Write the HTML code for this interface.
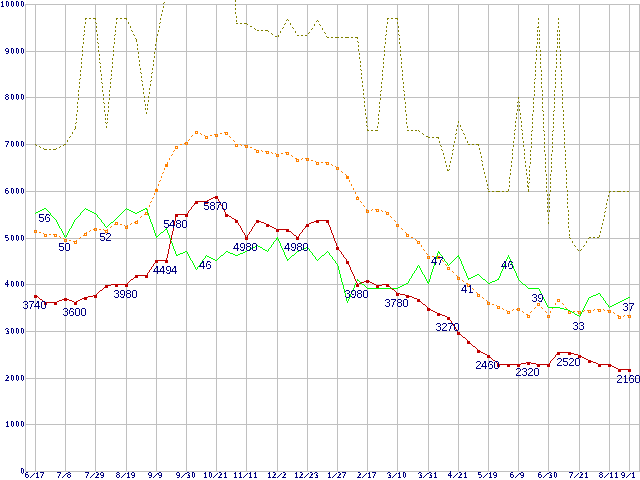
<!DOCTYPE html><html><head><meta charset="utf-8"><style>html,body{margin:0;padding:0;background:#fff;overflow:hidden;}svg{display:block;}.t{font-family:"Liberation Sans",sans-serif;font-weight:bold;font-size:9.7px;fill:#000080;}.d{font-family:"Liberation Sans",sans-serif;font-size:11.3px;fill:#000080;}</style></head><body>
<svg width="640" height="480" viewBox="0 0 640 480">
<defs><filter id="crisp" x="0" y="0" width="640" height="480" filterUnits="userSpaceOnUse"><feComponentTransfer><feFuncA type="discrete" tableValues="0 1"/></feComponentTransfer></filter><filter id="crisp2" x="0" y="0" width="640" height="480" filterUnits="userSpaceOnUse"><feComponentTransfer><feFuncA type="discrete" tableValues="0 1"/></feComponentTransfer></filter></defs>
<rect width="640" height="480" fill="#fff"/>
<path d="M25 471.5H640M25 424.5H640M25 378.5H640M25 331.5H640M25 284.5H640M25 238.5H640M25 191.5H640M25 144.5H640M25 97.5H640M25 51.5H640M25 4.5H640M35.5 4V472M65.5 4V472M95.5 4V472M126.5 4V472M156.5 4V472M186.5 4V472M216.5 4V472M246.5 4V472M277.5 4V472M307.5 4V472M337.5 4V472M367.5 4V472M397.5 4V472M428.5 4V472M458.5 4V472M488.5 4V472M518.5 4V472M548.5 4V472M579.5 4V472M609.5 4V472M629.5 4V472M25.5 4V472M639.5 4V472" stroke="#c0c0c0" stroke-width="1" fill="none" shape-rendering="crispEdges"/>
<g class="t" filter="url(#crisp)">
<text style="font-size:9.5px" transform="scale(0.76 1)" x="26.974" y="473.75">0</text>
<text style="font-size:9.5px" transform="scale(0.76 1)" x="7.237 13.816 20.395 26.974" y="426.75 426.75 426.75 426.75">1000</text>
<text style="font-size:9.5px" transform="scale(0.76 1)" x="6.579 13.816 20.395 26.974" y="381.25 380.75 380.75 380.75" rotate="2 0 0 0">2000</text>
<text style="font-size:9.5px" transform="scale(0.76 1)" x="7.237 13.816 20.395 26.974" y="334.75 333.75 333.75 333.75" rotate="-6 0 0 0">3000</text>
<text style="font-size:9.5px" transform="scale(0.76 1)" x="6.250 13.816 20.395 26.974" y="286.25 286.75 286.75 286.75" rotate="6 0 0 0">4000</text>
<text style="font-size:9.5px" transform="scale(0.76 1)" x="6.908 13.816 20.395 26.974" y="241.5 240.75 240.75 240.75" rotate="-6 0 0 0">5000</text>
<text style="font-size:9.5px" transform="scale(0.76 1)" x="6.908 13.816 20.395 26.974" y="194.5 193.75 193.75 193.75" rotate="-6 0 0 0">6000</text>
<text style="font-size:9.5px" transform="scale(0.76 1)" x="6.579 13.816 20.395 26.974" y="147.5 146.75 146.75 146.75" rotate="2 0 0 0">7000</text>
<text style="font-size:9.5px" transform="scale(0.76 1)" x="6.579 13.816 20.395 26.974" y="99.75 99.75 99.75 99.75">8000</text>
<text style="font-size:9.5px" transform="scale(0.76 1)" x="6.908 13.816 20.395 26.974" y="54.5 53.75 53.75 53.75" rotate="-4 0 0 0">9000</text>
<text style="font-size:9.5px" transform="scale(0.76 1)" x="0.658 7.237 13.816 20.395 26.974" y="6.75 6.75 6.75 6.75 6.75">10000</text>
<text style="font-size:9.5px" transform="scale(0.76 1)" x="33.224 39.803 46.711 52.632" y="478.5 477.5 477.75 478.5" rotate="-6 35 0 2">6/17</text>
<text style="font-size:9.5px" transform="scale(0.76 1)" x="75.000 81.908 88.158" y="478.5 477.5 477.75" rotate="2 35 0">7/8</text>
<text style="font-size:9.5px" transform="scale(0.76 1)" x="111.842 118.750 125.000 131.908" y="478.5 477.5 478.25 478.5" rotate="2 35 2 -4">7/29</text>
<text style="font-size:9.5px" transform="scale(0.76 1)" x="152.632 159.539 166.447 172.697" y="477.75 477.5 477.75 478.5" rotate="0 35 0 -4">8/19</text>
<text style="font-size:9.5px" transform="scale(0.76 1)" x="195.066 201.645 208.224" y="478.5 477.5 478.5" rotate="-4 35 -4">9/9</text>
<text style="font-size:9.5px" transform="scale(0.76 1)" x="231.908 238.487 245.395 251.974" y="478.5 477.5 478.75 477.75" rotate="-4 35 -6 0">9/30</text>
<text style="font-size:9.5px" transform="scale(0.76 1)" x="267.763 274.342 280.592 286.842 294.079" y="477.75 477.75 477.5 478.25 477.75" rotate="0 0 35 2 0">10/21</text>
<text style="font-size:9.5px" transform="scale(0.76 1)" x="307.237 313.816 320.066 326.974 333.553" y="477.75 477.75 477.5 477.75 477.75" rotate="0 0 35 0 0">11/11</text>
<text style="font-size:9.5px" transform="scale(0.76 1)" x="351.974 357.895 364.803 371.053" y="477.75 478.25 477.5 478.25" rotate="0 2 35 2">12/2</text>
<text style="font-size:9.5px" transform="scale(0.76 1)" x="387.500 393.421 400.329 406.579 413.816" y="477.75 478.25 477.5 478.25 478.75" rotate="0 2 35 2 -6">12/23</text>
<text style="font-size:9.5px" transform="scale(0.76 1)" x="430.921 437.171 443.421 450.000" y="477.75 477.5 478.25 478.5" rotate="0 35 2 2">1/27</text>
<text style="font-size:9.5px" transform="scale(0.76 1)" x="469.737 476.645 483.553 489.474" y="478.25 477.5 477.75 478.5" rotate="2 35 0 2">2/17</text>
<text style="font-size:9.5px" transform="scale(0.76 1)" x="509.868 516.118 523.026 529.605" y="478.75 477.5 477.75 477.75" rotate="-6 35 0 0">3/10</text>
<text style="font-size:9.5px" transform="scale(0.76 1)" x="550.658 556.908 563.816 570.395" y="478.75 477.5 478.75 477.75" rotate="-6 35 -6 0">3/31</text>
<text style="font-size:9.5px" transform="scale(0.76 1)" x="589.145 596.382 602.632 609.868" y="477.25 477.5 478.25 477.75" rotate="6 35 2 0">4/21</text>
<text style="font-size:9.5px" transform="scale(0.76 1)" x="629.276 635.855 642.763 649.013" y="478.5 477.5 477.75 478.5" rotate="-6 35 0 -4">5/19</text>
<text style="font-size:9.5px" transform="scale(0.76 1)" x="671.382 677.961 684.539" y="478.5 477.5 478.5" rotate="-6 35 -4">6/9</text>
<text style="font-size:9.5px" transform="scale(0.76 1)" x="708.224 714.803 721.711 728.289" y="478.5 477.5 478.75 477.75" rotate="-6 35 -6 0">6/30</text>
<text style="font-size:9.5px" transform="scale(0.76 1)" x="748.684 755.592 761.842 769.079" y="478.5 477.5 478.25 477.75" rotate="2 35 2 0">7/21</text>
<text style="font-size:9.5px" transform="scale(0.76 1)" x="788.158 795.066 801.974 808.553" y="477.75 477.5 477.75 477.75" rotate="0 35 0 0">8/11</text>
<text style="font-size:9.5px" transform="scale(0.76 1)" x="817.434 824.013 830.921" y="478.5 477.5 477.75" rotate="-4 35 0">9/1</text>
</g>
<path d="M235 0h1v1h-1zM235 1h1v1h-1zM164 2h1v1h-1zM163 3h1v1h-1zM235 4h1v1h-1zM235 5h1v1h-1zM163 6h1v1h-1zM163 7h1v1h-1zM235 8h1v1h-1zM235 9h1v1h-1zM162 10h1v1h-1zM162 11h1v1h-1zM235 12h1v1h-1zM235 13h1v1h-1zM161 14h1v1h-1zM161 15h1v1h-1zM236 16h1v1h-1zM236 17h1v1h-1zM85 18h2v1h-2zM89 18h2v1h-2zM93 18h3v1h-3zM116 18h2v1h-2zM120 18h2v1h-2zM124 18h3v1h-3zM160 18h1v1h-1zM387 18h2v1h-2zM391 18h2v1h-2zM395 18h3v1h-3zM538 18h1v1h-1zM558 18h1v1h-1zM85 19h1v1h-1zM95 19h1v1h-1zM116 19h1v1h-1zM126 19h1v1h-1zM160 19h1v1h-1zM287 19h1v1h-1zM387 19h1v1h-1zM397 19h1v1h-1zM538 19h1v1h-1zM558 19h1v1h-1zM236 20h1v1h-1zM286 20h1v1h-1zM288 20h1v1h-1zM317 20h1v1h-1zM236 21h1v1h-1zM316 21h1v1h-1zM318 21h1v1h-1zM85 22h1v1h-1zM95 22h1v1h-1zM116 22h1v1h-1zM128 22h1v1h-1zM160 22h1v1h-1zM387 22h1v1h-1zM397 22h1v1h-1zM538 22h1v1h-1zM558 22h1v1h-1zM85 23h1v1h-1zM96 23h1v1h-1zM116 23h1v1h-1zM128 23h1v1h-1zM159 23h1v1h-1zM236 23h2v1h-2zM240 23h2v1h-2zM244 23h3v1h-3zM285 23h1v1h-1zM290 23h1v1h-1zM387 23h1v1h-1zM397 23h1v1h-1zM538 23h1v1h-1zM558 23h1v1h-1zM247 24h1v1h-1zM284 24h1v1h-1zM290 24h1v1h-1zM314 24h1v1h-1zM319 24h1v1h-1zM314 25h1v1h-1zM320 25h1v1h-1zM84 26h1v1h-1zM96 26h1v1h-1zM115 26h1v1h-1zM130 26h1v1h-1zM159 26h1v1h-1zM250 26h2v1h-2zM386 26h1v1h-1zM398 26h1v1h-1zM538 26h1v1h-1zM558 26h1v1h-1zM84 27h1v1h-1zM96 27h1v1h-1zM115 27h1v1h-1zM130 27h1v1h-1zM159 27h1v1h-1zM283 27h1v1h-1zM292 27h1v1h-1zM386 27h1v1h-1zM398 27h1v1h-1zM537 27h2v1h-2zM558 27h1v1h-1zM254 28h1v1h-1zM282 28h1v1h-1zM293 28h1v1h-1zM312 28h1v1h-1zM322 28h1v1h-1zM255 29h1v1h-1zM311 29h1v1h-1zM322 29h1v1h-1zM84 30h1v1h-1zM96 30h1v1h-1zM115 30h1v1h-1zM131 30h1v1h-1zM158 30h1v1h-1zM257 30h2v1h-2zM261 30h2v1h-2zM265 30h3v1h-3zM386 30h1v1h-1zM398 30h1v1h-1zM537 30h1v1h-1zM539 30h1v1h-1zM557 30h1v1h-1zM559 30h1v1h-1zM84 31h1v1h-1zM96 31h1v1h-1zM115 31h1v1h-1zM132 31h1v1h-1zM158 31h1v1h-1zM268 31h1v1h-1zM280 31h1v1h-1zM295 31h1v1h-1zM386 31h1v1h-1zM398 31h1v1h-1zM537 31h1v1h-1zM539 31h1v1h-1zM557 31h1v1h-1zM559 31h1v1h-1zM280 32h1v1h-1zM295 32h1v1h-1zM309 32h1v1h-1zM324 32h1v1h-1zM271 33h1v1h-1zM308 33h1v1h-1zM325 33h1v1h-1zM84 34h1v1h-1zM97 34h1v1h-1zM115 34h1v1h-1zM133 34h1v1h-1zM157 34h1v1h-1zM272 34h1v1h-1zM386 34h1v1h-1zM398 34h1v1h-1zM537 34h1v1h-1zM539 34h1v1h-1zM557 34h1v1h-1zM559 34h1v1h-1zM83 35h1v1h-1zM97 35h1v1h-1zM114 35h1v1h-1zM134 35h1v1h-1zM157 35h1v1h-1zM278 35h1v1h-1zM297 35h2v1h-2zM301 35h2v1h-2zM305 35h2v1h-2zM385 35h1v1h-1zM399 35h1v1h-1zM537 35h1v1h-1zM539 35h1v1h-1zM557 35h1v1h-1zM559 35h1v1h-1zM275 36h2v1h-2zM278 36h1v1h-1zM326 36h1v1h-1zM327 37h2v1h-2zM331 37h2v1h-2zM335 37h4v1h-4zM341 37h2v1h-2zM345 37h4v1h-4zM351 37h2v1h-2zM355 37h3v1h-3zM83 38h1v1h-1zM97 38h1v1h-1zM114 38h1v1h-1zM135 38h1v1h-1zM156 38h1v1h-1zM357 38h1v1h-1zM385 38h1v1h-1zM399 38h1v1h-1zM537 38h1v1h-1zM539 38h1v1h-1zM557 38h1v1h-1zM559 38h1v1h-1zM83 39h1v1h-1zM97 39h1v1h-1zM114 39h1v1h-1zM136 39h1v1h-1zM156 39h1v1h-1zM385 39h1v1h-1zM399 39h1v1h-1zM537 39h1v1h-1zM539 39h1v1h-1zM557 39h1v1h-1zM559 39h1v1h-1zM136 40h1v1h-1zM156 40h1v1h-1zM136 41h1v1h-1zM156 41h1v1h-1zM357 41h1v1h-1zM83 42h1v1h-1zM97 42h1v1h-1zM114 42h1v1h-1zM358 42h1v1h-1zM385 42h1v1h-1zM399 42h1v1h-1zM537 42h1v1h-1zM539 42h1v1h-1zM557 42h1v1h-1zM559 42h1v1h-1zM83 43h1v1h-1zM98 43h1v1h-1zM114 43h1v1h-1zM385 43h1v1h-1zM399 43h1v1h-1zM537 43h1v1h-1zM539 43h1v1h-1zM557 43h1v1h-1zM559 43h1v1h-1zM137 44h1v1h-1zM155 44h1v1h-1zM137 45h1v1h-1zM155 45h1v1h-1zM358 45h1v1h-1zM82 46h1v1h-1zM98 46h1v1h-1zM113 46h1v1h-1zM358 46h1v1h-1zM384 46h1v1h-1zM400 46h1v1h-1zM536 46h1v1h-1zM539 46h1v1h-1zM557 46h1v1h-1zM559 46h1v1h-1zM82 47h1v1h-1zM98 47h1v1h-1zM113 47h1v1h-1zM384 47h1v1h-1zM400 47h1v1h-1zM536 47h1v1h-1zM539 47h1v1h-1zM557 47h1v1h-1zM559 47h1v1h-1zM137 48h1v1h-1zM155 48h1v1h-1zM137 49h1v1h-1zM155 49h1v1h-1zM358 49h1v1h-1zM82 50h1v1h-1zM98 50h1v1h-1zM113 50h1v1h-1zM358 50h1v1h-1zM384 50h1v1h-1zM400 50h1v1h-1zM536 50h1v1h-1zM540 50h1v1h-1zM556 50h1v1h-1zM560 50h1v1h-1zM82 51h1v1h-1zM98 51h1v1h-1zM113 51h1v1h-1zM384 51h1v1h-1zM400 51h1v1h-1zM536 51h1v1h-1zM540 51h1v1h-1zM556 51h1v1h-1zM560 51h1v1h-1zM138 52h1v1h-1zM154 52h1v1h-1zM138 53h1v1h-1zM154 53h1v1h-1zM359 53h1v1h-1zM82 54h1v1h-1zM99 54h1v1h-1zM113 54h1v1h-1zM359 54h1v1h-1zM384 54h1v1h-1zM400 54h1v1h-1zM536 54h1v1h-1zM540 54h1v1h-1zM556 54h1v1h-1zM560 54h1v1h-1zM82 55h1v1h-1zM99 55h1v1h-1zM113 55h1v1h-1zM384 55h1v1h-1zM400 55h1v1h-1zM536 55h1v1h-1zM540 55h1v1h-1zM556 55h1v1h-1zM560 55h1v1h-1zM138 56h1v1h-1zM154 56h1v1h-1zM138 57h1v1h-1zM154 57h1v1h-1zM359 57h1v1h-1zM81 58h1v1h-1zM99 58h1v1h-1zM112 58h1v1h-1zM359 58h1v1h-1zM383 58h1v1h-1zM401 58h1v1h-1zM536 58h1v1h-1zM540 58h1v1h-1zM556 58h1v1h-1zM560 58h1v1h-1zM81 59h1v1h-1zM99 59h1v1h-1zM112 59h1v1h-1zM383 59h1v1h-1zM401 59h1v1h-1zM536 59h1v1h-1zM540 59h1v1h-1zM556 59h1v1h-1zM560 59h1v1h-1zM139 60h1v1h-1zM153 60h1v1h-1zM139 61h1v1h-1zM153 61h1v1h-1zM360 61h1v1h-1zM81 62h1v1h-1zM99 62h1v1h-1zM112 62h1v1h-1zM360 62h1v1h-1zM383 62h1v1h-1zM401 62h1v1h-1zM535 62h1v1h-1zM540 62h1v1h-1zM556 62h1v1h-1zM560 62h1v1h-1zM81 63h1v1h-1zM100 63h1v1h-1zM112 63h1v1h-1zM383 63h1v1h-1zM401 63h1v1h-1zM535 63h1v1h-1zM540 63h1v1h-1zM556 63h1v1h-1zM560 63h1v1h-1zM139 64h1v1h-1zM153 64h1v1h-1zM139 65h1v1h-1zM153 65h1v1h-1zM360 65h1v1h-1zM81 66h1v1h-1zM100 66h1v1h-1zM112 66h1v1h-1zM360 66h1v1h-1zM383 66h1v1h-1zM401 66h1v1h-1zM535 66h1v1h-1zM540 66h1v1h-1zM556 66h1v1h-1zM560 66h1v1h-1zM81 67h1v1h-1zM100 67h1v1h-1zM112 67h1v1h-1zM383 67h1v1h-1zM401 67h1v1h-1zM535 67h1v1h-1zM540 67h1v1h-1zM556 67h1v1h-1zM560 67h1v1h-1zM140 68h1v1h-1zM152 68h1v1h-1zM140 69h1v1h-1zM152 69h1v1h-1zM360 69h1v1h-1zM80 70h1v1h-1zM100 70h1v1h-1zM111 70h1v1h-1zM361 70h1v1h-1zM382 70h1v1h-1zM402 70h1v1h-1zM535 70h1v1h-1zM541 70h1v1h-1zM555 70h1v1h-1zM561 70h1v1h-1zM80 71h1v1h-1zM100 71h1v1h-1zM111 71h1v1h-1zM382 71h1v1h-1zM402 71h1v1h-1zM535 71h1v1h-1zM541 71h1v1h-1zM555 71h1v1h-1zM561 71h1v1h-1zM140 72h1v1h-1zM152 72h1v1h-1zM141 73h1v1h-1zM151 73h1v1h-1zM361 73h1v1h-1zM80 74h1v1h-1zM101 74h1v1h-1zM111 74h1v1h-1zM361 74h1v1h-1zM382 74h1v1h-1zM402 74h1v1h-1zM535 74h1v1h-1zM541 74h1v1h-1zM555 74h1v1h-1zM561 74h1v1h-1zM80 75h1v1h-1zM101 75h1v1h-1zM111 75h1v1h-1zM382 75h1v1h-1zM402 75h1v1h-1zM535 75h1v1h-1zM541 75h1v1h-1zM555 75h1v1h-1zM561 75h1v1h-1zM141 76h1v1h-1zM151 76h1v1h-1zM141 77h1v1h-1zM151 77h1v1h-1zM361 77h1v1h-1zM80 78h1v1h-1zM101 78h1v1h-1zM111 78h1v1h-1zM361 78h1v1h-1zM382 78h1v1h-1zM402 78h1v1h-1zM535 78h1v1h-1zM541 78h1v1h-1zM555 78h1v1h-1zM561 78h1v1h-1zM79 79h1v1h-1zM101 79h1v1h-1zM110 79h1v1h-1zM382 79h1v1h-1zM402 79h1v1h-1zM534 79h1v1h-1zM541 79h1v1h-1zM555 79h1v1h-1zM561 79h1v1h-1zM141 80h1v1h-1zM151 80h1v1h-1zM142 81h1v1h-1zM150 81h1v1h-1zM362 81h1v1h-1zM79 82h1v1h-1zM101 82h1v1h-1zM110 82h1v1h-1zM362 82h1v1h-1zM381 82h1v1h-1zM403 82h1v1h-1zM534 82h1v1h-1zM541 82h1v1h-1zM555 82h1v1h-1zM561 82h1v1h-1zM79 83h1v1h-1zM102 83h1v1h-1zM110 83h1v1h-1zM381 83h1v1h-1zM403 83h1v1h-1zM534 83h1v1h-1zM541 83h1v1h-1zM555 83h1v1h-1zM561 83h1v1h-1zM142 84h1v1h-1zM150 84h1v1h-1zM142 85h1v1h-1zM150 85h1v1h-1zM362 85h1v1h-1zM79 86h1v1h-1zM102 86h1v1h-1zM110 86h1v1h-1zM362 86h1v1h-1zM381 86h1v1h-1zM403 86h1v1h-1zM534 86h1v1h-1zM541 86h1v1h-1zM555 86h1v1h-1zM561 86h1v1h-1zM79 87h1v1h-1zM102 87h1v1h-1zM110 87h1v1h-1zM381 87h1v1h-1zM403 87h1v1h-1zM534 87h1v1h-1zM541 87h1v1h-1zM555 87h1v1h-1zM561 87h1v1h-1zM143 88h1v1h-1zM149 88h1v1h-1zM143 89h1v1h-1zM149 89h1v1h-1zM363 89h1v1h-1zM78 90h1v1h-1zM102 90h1v1h-1zM109 90h1v1h-1zM363 90h1v1h-1zM381 90h1v1h-1zM403 90h1v1h-1zM534 90h1v1h-1zM542 90h1v1h-1zM554 90h1v1h-1zM562 90h1v1h-1zM78 91h1v1h-1zM102 91h1v1h-1zM109 91h1v1h-1zM380 91h1v1h-1zM404 91h1v1h-1zM534 91h1v1h-1zM542 91h1v1h-1zM554 91h1v1h-1zM562 91h1v1h-1zM143 92h1v1h-1zM149 92h1v1h-1zM143 93h1v1h-1zM149 93h1v1h-1zM363 93h1v1h-1zM78 94h1v1h-1zM103 94h1v1h-1zM109 94h1v1h-1zM363 94h1v1h-1zM380 94h1v1h-1zM404 94h1v1h-1zM534 94h1v1h-1zM542 94h1v1h-1zM554 94h1v1h-1zM562 94h1v1h-1zM78 95h1v1h-1zM103 95h1v1h-1zM109 95h1v1h-1zM380 95h1v1h-1zM404 95h1v1h-1zM534 95h1v1h-1zM542 95h1v1h-1zM554 95h1v1h-1zM562 95h1v1h-1zM144 96h1v1h-1zM148 96h1v1h-1zM144 97h1v1h-1zM148 97h1v1h-1zM363 97h1v1h-1zM518 97h1v1h-1zM78 98h1v1h-1zM103 98h1v1h-1zM109 98h1v1h-1zM364 98h1v1h-1zM380 98h1v1h-1zM404 98h1v1h-1zM518 98h1v1h-1zM533 98h1v1h-1zM542 98h1v1h-1zM554 98h1v1h-1zM562 98h1v1h-1zM78 99h1v1h-1zM103 99h1v1h-1zM109 99h1v1h-1zM380 99h1v1h-1zM404 99h1v1h-1zM533 99h1v1h-1zM542 99h1v1h-1zM554 99h1v1h-1zM562 99h1v1h-1zM144 100h1v1h-1zM148 100h1v1h-1zM144 101h1v1h-1zM148 101h1v1h-1zM364 101h1v1h-1zM518 101h1v1h-1zM77 102h1v1h-1zM103 102h1v1h-1zM108 102h1v1h-1zM364 102h1v1h-1zM379 102h1v1h-1zM405 102h1v1h-1zM517 102h1v1h-1zM519 102h1v1h-1zM533 102h1v1h-1zM542 102h1v1h-1zM554 102h1v1h-1zM562 102h1v1h-1zM77 103h1v1h-1zM104 103h1v1h-1zM108 103h1v1h-1zM379 103h1v1h-1zM405 103h1v1h-1zM533 103h1v1h-1zM542 103h1v1h-1zM554 103h1v1h-1zM562 103h1v1h-1zM145 104h1v1h-1zM147 104h1v1h-1zM145 105h1v1h-1zM147 105h1v1h-1zM364 105h1v1h-1zM517 105h1v1h-1zM519 105h1v1h-1zM77 106h1v1h-1zM104 106h1v1h-1zM108 106h1v1h-1zM364 106h1v1h-1zM379 106h1v1h-1zM405 106h1v1h-1zM517 106h1v1h-1zM519 106h1v1h-1zM533 106h1v1h-1zM542 106h1v1h-1zM554 106h1v1h-1zM562 106h1v1h-1zM77 107h1v1h-1zM104 107h1v1h-1zM108 107h1v1h-1zM379 107h1v1h-1zM405 107h1v1h-1zM533 107h1v1h-1zM542 107h1v1h-1zM554 107h1v1h-1zM562 107h1v1h-1zM145 108h1v1h-1zM147 108h1v1h-1zM145 109h1v1h-1zM147 109h1v1h-1zM365 109h1v1h-1zM517 109h1v1h-1zM519 109h1v1h-1zM77 110h1v1h-1zM104 110h1v1h-1zM108 110h1v1h-1zM365 110h1v1h-1zM379 110h1v1h-1zM405 110h1v1h-1zM517 110h1v1h-1zM519 110h1v1h-1zM533 110h1v1h-1zM542 110h1v1h-1zM554 110h1v1h-1zM563 110h1v1h-1zM77 111h1v1h-1zM104 111h1v1h-1zM108 111h1v1h-1zM379 111h1v1h-1zM405 111h1v1h-1zM533 111h1v1h-1zM543 111h1v1h-1zM553 111h1v1h-1zM563 111h1v1h-1zM146 112h1v1h-1zM146 113h1v1h-1zM365 113h1v1h-1zM516 113h1v1h-1zM520 113h1v1h-1zM76 114h1v1h-1zM105 114h1v1h-1zM107 114h1v1h-1zM365 114h1v1h-1zM378 114h1v1h-1zM406 114h1v1h-1zM516 114h1v1h-1zM520 114h1v1h-1zM532 114h1v1h-1zM543 114h1v1h-1zM553 114h1v1h-1zM563 114h1v1h-1zM76 115h1v1h-1zM105 115h1v1h-1zM107 115h1v1h-1zM378 115h1v1h-1zM406 115h1v1h-1zM532 115h1v1h-1zM543 115h1v1h-1zM553 115h1v1h-1zM563 115h1v1h-1zM366 117h1v1h-1zM516 117h1v1h-1zM520 117h1v1h-1zM76 118h1v1h-1zM105 118h1v1h-1zM107 118h1v1h-1zM366 118h1v1h-1zM378 118h1v1h-1zM406 118h1v1h-1zM516 118h1v1h-1zM520 118h1v1h-1zM532 118h1v1h-1zM543 118h1v1h-1zM553 118h1v1h-1zM563 118h1v1h-1zM76 119h1v1h-1zM105 119h1v1h-1zM107 119h1v1h-1zM378 119h1v1h-1zM406 119h1v1h-1zM532 119h1v1h-1zM543 119h1v1h-1zM553 119h1v1h-1zM563 119h1v1h-1zM366 121h1v1h-1zM458 121h1v1h-1zM515 121h1v1h-1zM521 121h1v1h-1zM76 122h1v1h-1zM105 122h1v1h-1zM107 122h1v1h-1zM366 122h1v1h-1zM378 122h1v1h-1zM406 122h1v1h-1zM458 122h1v1h-1zM515 122h1v1h-1zM521 122h1v1h-1zM532 122h1v1h-1zM543 122h1v1h-1zM553 122h1v1h-1zM563 122h1v1h-1zM75 123h1v1h-1zM106 123h1v1h-1zM378 123h1v1h-1zM406 123h1v1h-1zM532 123h1v1h-1zM543 123h1v1h-1zM553 123h1v1h-1zM563 123h1v1h-1zM366 125h1v1h-1zM457 125h1v1h-1zM460 125h1v1h-1zM515 125h1v1h-1zM521 125h1v1h-1zM75 126h1v1h-1zM106 126h1v1h-1zM367 126h1v1h-1zM377 126h1v1h-1zM407 126h1v1h-1zM457 126h1v1h-1zM460 126h1v1h-1zM515 126h1v1h-1zM521 126h1v1h-1zM532 126h1v1h-1zM543 126h1v1h-1zM553 126h1v1h-1zM563 126h1v1h-1zM75 127h1v1h-1zM106 127h1v1h-1zM377 127h1v1h-1zM407 127h1v1h-1zM532 127h1v1h-1zM543 127h1v1h-1zM553 127h1v1h-1zM563 127h1v1h-1zM75 128h1v1h-1zM74 129h1v1h-1zM367 129h1v1h-1zM456 129h1v1h-1zM461 129h1v1h-1zM515 129h1v1h-1zM521 129h1v1h-1zM367 130h2v1h-2zM371 130h2v1h-2zM375 130h3v1h-3zM407 130h2v1h-2zM411 130h2v1h-2zM415 130h2v1h-2zM418 130h1v1h-1zM456 130h1v1h-1zM462 130h1v1h-1zM514 130h1v1h-1zM522 130h1v1h-1zM532 130h1v1h-1zM543 130h1v1h-1zM553 130h1v1h-1zM564 130h1v1h-1zM419 131h1v1h-1zM531 131h1v1h-1zM544 131h1v1h-1zM552 131h1v1h-1zM564 131h1v1h-1zM72 132h1v1h-1zM72 133h1v1h-1zM422 133h1v1h-1zM456 133h1v1h-1zM463 133h1v1h-1zM514 133h1v1h-1zM522 133h1v1h-1zM423 134h1v1h-1zM455 134h1v1h-1zM464 134h1v1h-1zM514 134h1v1h-1zM522 134h1v1h-1zM531 134h1v1h-1zM544 134h1v1h-1zM552 134h1v1h-1zM564 134h1v1h-1zM531 135h1v1h-1zM544 135h1v1h-1zM552 135h1v1h-1zM564 135h1v1h-1zM70 136h1v1h-1zM426 136h2v1h-2zM69 137h1v1h-1zM428 137h2v1h-2zM432 137h2v1h-2zM436 137h3v1h-3zM455 137h1v1h-1zM465 137h1v1h-1zM514 137h1v1h-1zM522 137h1v1h-1zM438 138h1v1h-1zM455 138h1v1h-1zM465 138h1v1h-1zM514 138h1v1h-1zM522 138h1v1h-1zM531 138h1v1h-1zM544 138h1v1h-1zM552 138h1v1h-1zM564 138h1v1h-1zM531 139h1v1h-1zM544 139h1v1h-1zM552 139h1v1h-1zM564 139h1v1h-1zM67 140h1v1h-1zM67 141h1v1h-1zM439 141h1v1h-1zM454 141h1v1h-1zM467 141h1v1h-1zM513 141h1v1h-1zM523 141h1v1h-1zM439 142h1v1h-1zM454 142h1v1h-1zM467 142h1v1h-1zM513 142h1v1h-1zM523 142h1v1h-1zM531 142h1v1h-1zM544 142h1v1h-1zM552 142h1v1h-1zM564 142h1v1h-1zM531 143h1v1h-1zM544 143h1v1h-1zM552 143h1v1h-1zM564 143h1v1h-1zM35 144h1v1h-1zM64 144h2v1h-2zM468 144h2v1h-2zM472 144h2v1h-2zM476 144h3v1h-3zM36 145h1v1h-1zM63 145h1v1h-1zM440 145h1v1h-1zM453 145h1v1h-1zM478 145h1v1h-1zM513 145h1v1h-1zM523 145h1v1h-1zM39 146h1v1h-1zM60 146h1v1h-1zM441 146h1v1h-1zM453 146h1v1h-1zM513 146h1v1h-1zM523 146h1v1h-1zM531 146h1v1h-1zM544 146h1v1h-1zM552 146h1v1h-1zM564 146h1v1h-1zM40 147h1v1h-1zM59 147h1v1h-1zM531 147h1v1h-1zM544 147h1v1h-1zM552 147h1v1h-1zM564 147h1v1h-1zM43 148h1v1h-1zM56 148h1v1h-1zM479 148h1v1h-1zM44 149h3v1h-3zM49 149h2v1h-2zM53 149h3v1h-3zM441 149h1v1h-1zM453 149h1v1h-1zM479 149h1v1h-1zM512 149h1v1h-1zM524 149h1v1h-1zM442 150h1v1h-1zM452 150h1v1h-1zM512 150h1v1h-1zM524 150h1v1h-1zM530 150h1v1h-1zM544 150h1v1h-1zM552 150h1v1h-1zM565 150h1v1h-1zM530 151h1v1h-1zM544 151h1v1h-1zM552 151h1v1h-1zM565 151h1v1h-1zM480 152h1v1h-1zM443 153h1v1h-1zM452 153h1v1h-1zM480 153h1v1h-1zM512 153h1v1h-1zM524 153h1v1h-1zM443 154h1v1h-1zM452 154h1v1h-1zM512 154h1v1h-1zM524 154h1v1h-1zM530 154h1v1h-1zM545 154h1v1h-1zM551 154h1v1h-1zM565 154h1v1h-1zM530 155h1v1h-1zM545 155h1v1h-1zM551 155h1v1h-1zM565 155h1v1h-1zM481 156h1v1h-1zM444 157h1v1h-1zM451 157h1v1h-1zM481 157h1v1h-1zM512 157h1v1h-1zM524 157h1v1h-1zM444 158h1v1h-1zM451 158h1v1h-1zM512 158h1v1h-1zM524 158h1v1h-1zM530 158h1v1h-1zM545 158h1v1h-1zM551 158h1v1h-1zM565 158h1v1h-1zM530 159h1v1h-1zM545 159h1v1h-1zM551 159h1v1h-1zM565 159h1v1h-1zM481 160h1v1h-1zM445 161h1v1h-1zM450 161h1v1h-1zM482 161h1v1h-1zM511 161h1v1h-1zM525 161h1v1h-1zM445 162h1v1h-1zM450 162h1v1h-1zM511 162h1v1h-1zM525 162h1v1h-1zM530 162h1v1h-1zM545 162h1v1h-1zM551 162h1v1h-1zM565 162h1v1h-1zM530 163h1v1h-1zM545 163h1v1h-1zM551 163h1v1h-1zM565 163h1v1h-1zM482 164h1v1h-1zM446 165h1v1h-1zM449 165h1v1h-1zM482 165h1v1h-1zM511 165h1v1h-1zM525 165h1v1h-1zM446 166h1v1h-1zM449 166h1v1h-1zM511 166h1v1h-1zM525 166h1v1h-1zM529 166h1v1h-1zM545 166h1v1h-1zM551 166h1v1h-1zM565 166h1v1h-1zM529 167h1v1h-1zM545 167h1v1h-1zM551 167h1v1h-1zM565 167h1v1h-1zM483 168h1v1h-1zM447 169h1v1h-1zM449 169h1v1h-1zM483 169h1v1h-1zM510 169h1v1h-1zM526 169h1v1h-1zM447 170h2v1h-2zM510 170h1v1h-1zM526 170h1v1h-1zM529 170h1v1h-1zM545 170h1v1h-1zM551 170h1v1h-1zM566 170h1v1h-1zM529 171h1v1h-1zM545 171h1v1h-1zM551 171h1v1h-1zM566 171h1v1h-1zM484 172h1v1h-1zM484 173h1v1h-1zM510 173h1v1h-1zM526 173h1v1h-1zM510 174h1v1h-1zM526 174h1v1h-1zM529 174h1v1h-1zM546 174h1v1h-1zM550 174h1v1h-1zM566 174h1v1h-1zM529 175h1v1h-1zM546 175h1v1h-1zM550 175h1v1h-1zM566 175h1v1h-1zM485 176h1v1h-1zM485 177h1v1h-1zM509 177h1v1h-1zM527 177h1v1h-1zM509 178h1v1h-1zM527 178h1v1h-1zM529 178h1v1h-1zM546 178h1v1h-1zM550 178h1v1h-1zM566 178h1v1h-1zM529 179h1v1h-1zM546 179h1v1h-1zM550 179h1v1h-1zM566 179h1v1h-1zM486 180h1v1h-1zM486 181h1v1h-1zM509 181h1v1h-1zM527 181h1v1h-1zM509 182h1v1h-1zM527 182h1v1h-1zM529 182h1v1h-1zM546 182h1v1h-1zM550 182h1v1h-1zM566 182h1v1h-1zM528 183h1v1h-1zM546 183h1v1h-1zM550 183h1v1h-1zM566 183h1v1h-1zM487 184h1v1h-1zM487 185h1v1h-1zM509 185h1v1h-1zM527 185h1v1h-1zM509 186h1v1h-1zM527 186h2v1h-2zM546 186h1v1h-1zM550 186h1v1h-1zM566 186h1v1h-1zM528 187h1v1h-1zM546 187h1v1h-1zM550 187h1v1h-1zM566 187h1v1h-1zM487 188h1v1h-1zM488 189h1v1h-1zM508 189h1v1h-1zM528 189h1v1h-1zM508 190h1v1h-1zM528 190h1v1h-1zM546 190h1v1h-1zM550 190h1v1h-1zM567 190h1v1h-1zM488 191h2v1h-2zM492 191h2v1h-2zM496 191h4v1h-4zM502 191h2v1h-2zM506 191h2v1h-2zM528 191h1v1h-1zM546 191h1v1h-1zM550 191h1v1h-1zM567 191h1v1h-1zM609 191h2v1h-2zM613 191h2v1h-2zM617 191h4v1h-4zM623 191h2v1h-2zM627 191h2v1h-2zM609 192h1v1h-1zM547 194h1v1h-1zM549 194h1v1h-1zM567 194h1v1h-1zM547 195h1v1h-1zM549 195h1v1h-1zM567 195h1v1h-1zM608 195h1v1h-1zM608 196h1v1h-1zM547 198h1v1h-1zM549 198h1v1h-1zM567 198h1v1h-1zM547 199h1v1h-1zM549 199h1v1h-1zM567 199h1v1h-1zM607 199h1v1h-1zM607 200h1v1h-1zM547 202h1v1h-1zM549 202h1v1h-1zM567 202h1v1h-1zM547 203h1v1h-1zM549 203h1v1h-1zM567 203h1v1h-1zM606 203h1v1h-1zM606 204h1v1h-1zM547 206h1v1h-1zM549 206h1v1h-1zM567 206h1v1h-1zM547 207h1v1h-1zM549 207h1v1h-1zM567 207h1v1h-1zM606 207h1v1h-1zM605 208h1v1h-1zM547 210h1v1h-1zM549 210h1v1h-1zM568 210h1v1h-1zM547 211h1v1h-1zM549 211h1v1h-1zM568 211h1v1h-1zM605 211h1v1h-1zM604 212h1v1h-1zM548 214h1v1h-1zM568 214h1v1h-1zM548 215h1v1h-1zM568 215h1v1h-1zM604 215h1v1h-1zM604 216h1v1h-1zM548 218h1v1h-1zM568 218h1v1h-1zM548 219h1v1h-1zM568 219h1v1h-1zM603 219h1v1h-1zM603 220h1v1h-1zM548 222h1v1h-1zM568 222h1v1h-1zM548 223h1v1h-1zM568 223h1v1h-1zM602 223h1v1h-1zM602 224h1v1h-1zM568 226h1v1h-1zM568 227h1v1h-1zM601 227h1v1h-1zM601 228h1v1h-1zM569 230h1v1h-1zM569 231h1v1h-1zM600 231h1v1h-1zM600 232h1v1h-1zM569 234h1v1h-1zM569 235h1v1h-1zM599 235h1v1h-1zM599 236h1v1h-1zM569 237h1v1h-1zM589 237h2v1h-2zM593 237h2v1h-2zM597 237h2v1h-2zM570 238h1v1h-1zM588 238h1v1h-1zM572 241h1v1h-1zM586 241h1v1h-1zM572 242h1v1h-1zM586 242h1v1h-1zM574 245h1v1h-1zM584 245h1v1h-1zM575 246h1v1h-1zM583 246h1v1h-1zM577 249h1v1h-1zM581 249h1v1h-1zM578 250h1v1h-1zM580 250h1v1h-1z" fill="#808000" shape-rendering="crispEdges"/>
<path d="M196 131h1v1h-1zM195 132h1v1h-1zM197 132h1v1h-1zM224 132h3v1h-3zM200 133h1v1h-1zM220 133h2v1h-2zM227 133h1v1h-1zM201 134h1v1h-1zM214 134h4v1h-4zM192 135h1v1h-1zM204 135h1v1h-1zM210 135h2v1h-2zM191 136h1v1h-1zM205 136h3v1h-3zM229 136h1v1h-1zM230 137h1v1h-1zM189 139h1v1h-1zM188 140h1v1h-1zM233 140h1v1h-1zM234 141h1v1h-1zM185 142h1v1h-1zM184 143h1v1h-1zM180 144h2v1h-2zM236 144h2v1h-2zM240 144h1v1h-1zM241 145h1v1h-1zM244 145h4v1h-4zM176 146h2v1h-2zM175 147h1v1h-1zM250 147h2v1h-2zM254 149h2v1h-2zM174 150h1v1h-1zM257 150h2v1h-2zM261 150h1v1h-1zM173 151h1v1h-1zM262 151h1v1h-1zM265 151h4v1h-4zM271 152h1v1h-1zM285 152h3v1h-3zM272 153h1v1h-1zM275 153h1v1h-1zM281 153h2v1h-2zM288 153h1v1h-1zM172 154h1v1h-1zM276 154h3v1h-3zM171 155h1v1h-1zM291 155h1v1h-1zM292 156h1v1h-1zM169 158h1v1h-1zM295 158h2v1h-2zM302 158h1v1h-1zM305 158h4v1h-4zM169 159h1v1h-1zM297 159h2v1h-2zM301 159h1v1h-1zM311 160h2v1h-2zM315 161h1v1h-1zM167 162h1v1h-1zM316 162h3v1h-3zM321 162h2v1h-2zM325 162h3v1h-3zM167 163h1v1h-1zM328 163h1v1h-1zM166 164h1v1h-1zM331 164h1v1h-1zM166 165h1v1h-1zM332 165h1v1h-1zM335 166h1v1h-1zM336 167h2v1h-2zM164 168h1v1h-1zM338 168h1v1h-1zM164 169h1v1h-1zM341 171h1v1h-1zM163 172h1v1h-1zM342 172h1v1h-1zM162 173h1v1h-1zM345 174h1v1h-1zM346 175h1v1h-1zM161 176h1v1h-1zM347 176h1v1h-1zM161 177h1v1h-1zM347 177h1v1h-1zM160 180h1v1h-1zM349 180h1v1h-1zM159 181h1v1h-1zM349 181h1v1h-1zM158 184h1v1h-1zM351 184h1v1h-1zM158 185h1v1h-1zM351 185h1v1h-1zM156 188h1v1h-1zM353 188h1v1h-1zM156 189h1v1h-1zM353 189h1v1h-1zM156 190h1v1h-1zM355 192h1v1h-1zM154 193h1v1h-1zM355 193h1v1h-1zM154 194h1v1h-1zM357 196h1v1h-1zM153 197h1v1h-1zM357 197h1v1h-1zM152 198h1v1h-1zM358 198h1v1h-1zM151 201h1v1h-1zM360 201h1v1h-1zM150 202h1v1h-1zM361 202h1v1h-1zM149 205h1v1h-1zM363 205h1v1h-1zM149 206h1v1h-1zM364 206h1v1h-1zM147 209h1v1h-1zM366 209h1v1h-1zM372 209h1v1h-1zM375 209h4v1h-4zM147 210h1v1h-1zM367 210h2v1h-2zM371 210h1v1h-1zM381 210h1v1h-1zM382 211h1v1h-1zM385 211h1v1h-1zM386 212h2v1h-2zM145 213h1v1h-1zM388 213h1v1h-1zM144 214h1v1h-1zM141 216h1v1h-1zM390 216h1v1h-1zM140 217h1v1h-1zM391 217h1v1h-1zM137 220h1v1h-1zM394 220h1v1h-1zM135 221h2v1h-2zM395 221h1v1h-1zM116 222h2v1h-2zM134 222h1v1h-1zM115 223h1v1h-1zM131 223h1v1h-1zM114 224h1v1h-1zM120 224h2v1h-2zM130 224h1v1h-1zM397 224h1v1h-1zM124 225h1v1h-1zM127 225h1v1h-1zM398 225h1v1h-1zM111 226h1v1h-1zM125 226h2v1h-2zM110 227h1v1h-1zM94 228h3v1h-3zM401 228h1v1h-1zM93 229h1v1h-1zM99 229h2v1h-2zM103 229h1v1h-1zM107 229h1v1h-1zM402 229h1v1h-1zM35 230h2v1h-2zM90 230h1v1h-1zM104 230h1v1h-1zM106 230h1v1h-1zM89 231h1v1h-1zM39 232h2v1h-2zM86 232h1v1h-1zM405 232h1v1h-1zM43 233h1v1h-1zM85 233h1v1h-1zM406 233h1v1h-1zM44 234h3v1h-3zM49 234h2v1h-2zM53 234h3v1h-3zM84 234h1v1h-1zM407 234h1v1h-1zM56 235h1v1h-1zM83 235h1v1h-1zM408 235h1v1h-1zM59 236h1v1h-1zM60 237h1v1h-1zM80 237h1v1h-1zM411 237h2v1h-2zM63 238h1v1h-1zM79 238h1v1h-1zM64 239h3v1h-3zM415 239h1v1h-1zM69 240h2v1h-2zM76 240h1v1h-1zM416 240h1v1h-1zM73 241h3v1h-3zM418 241h1v1h-1zM419 242h1v1h-1zM421 245h1v1h-1zM421 246h1v1h-1zM423 249h1v1h-1zM424 250h1v1h-1zM426 253h1v1h-1zM427 254h1v1h-1zM428 256h2v1h-2zM432 256h2v1h-2zM436 256h3v1h-3zM439 257h1v1h-1zM442 260h1v1h-1zM443 261h1v1h-1zM445 264h1v1h-1zM446 265h1v1h-1zM448 267h1v1h-1zM449 268h1v1h-1zM452 271h1v1h-1zM453 272h1v1h-1zM456 275h1v1h-1zM457 276h1v1h-1zM458 277h1v1h-1zM459 278h1v1h-1zM462 280h1v1h-1zM463 281h1v1h-1zM466 283h2v1h-2zM468 284h1v1h-1zM469 285h1v1h-1zM472 288h1v1h-1zM473 289h1v1h-1zM476 292h1v1h-1zM477 293h1v1h-1zM478 294h1v1h-1zM479 295h1v1h-1zM482 297h1v1h-1zM483 298h1v1h-1zM558 299h1v1h-1zM486 300h1v1h-1zM557 300h1v1h-1zM559 300h1v1h-1zM487 301h1v1h-1zM488 302h2v1h-2zM538 303h1v1h-1zM555 303h1v1h-1zM562 303h1v1h-1zM492 304h2v1h-2zM537 304h1v1h-1zM539 304h1v1h-1zM555 304h1v1h-1zM563 304h1v1h-1zM496 305h1v1h-1zM497 306h2v1h-2zM499 307h1v1h-1zM535 307h1v1h-1zM541 307h1v1h-1zM553 307h1v1h-1zM565 307h1v1h-1zM502 308h1v1h-1zM517 308h2v1h-2zM534 308h1v1h-1zM542 308h1v1h-1zM552 308h1v1h-1zM566 308h1v1h-1zM503 309h1v1h-1zM513 309h1v1h-1zM516 309h1v1h-1zM519 309h1v1h-1zM594 309h1v1h-1zM597 309h4v1h-4zM603 309h1v1h-1zM506 310h1v1h-1zM512 310h1v1h-1zM584 310h1v1h-1zM587 310h4v1h-4zM593 310h1v1h-1zM604 310h1v1h-1zM607 310h3v1h-3zM507 311h3v1h-3zM522 311h1v1h-1zM531 311h1v1h-1zM545 311h1v1h-1zM550 311h1v1h-1zM569 311h2v1h-2zM573 311h2v1h-2zM577 311h4v1h-4zM583 311h1v1h-1zM610 311h1v1h-1zM523 312h1v1h-1zM530 312h1v1h-1zM546 312h1v1h-1zM550 312h1v1h-1zM613 312h1v1h-1zM614 313h1v1h-1zM526 314h2v1h-2zM528 315h1v1h-1zM548 315h1v1h-1zM617 315h2v1h-2zM624 315h1v1h-1zM627 315h2v1h-2zM619 316h2v1h-2zM623 316h1v1h-1z" fill="#ff8000" shape-rendering="crispEdges"/>
<path d="M195 131h3v1h-3zM195 132h1v1h-1zM197 132h1v1h-1zM225 132h3v1h-3zM195 133h3v1h-3zM225 133h1v1h-1zM227 133h1v1h-1zM215 134h3v1h-3zM225 134h3v1h-3zM215 135h1v1h-1zM217 135h1v1h-1zM205 136h3v1h-3zM215 136h3v1h-3zM205 137h1v1h-1zM207 137h1v1h-1zM205 138h3v1h-3zM185 142h3v1h-3zM185 143h1v1h-1zM187 143h1v1h-1zM185 144h3v1h-3zM235 144h3v1h-3zM235 145h1v1h-1zM237 145h1v1h-1zM245 145h3v1h-3zM175 146h3v1h-3zM235 146h3v1h-3zM245 146h1v1h-1zM247 146h1v1h-1zM175 147h1v1h-1zM177 147h1v1h-1zM245 147h3v1h-3zM175 148h3v1h-3zM256 150h3v1h-3zM256 151h1v1h-1zM258 151h1v1h-1zM266 151h3v1h-3zM256 152h3v1h-3zM266 152h1v1h-1zM268 152h1v1h-1zM286 152h3v1h-3zM266 153h3v1h-3zM286 153h1v1h-1zM288 153h1v1h-1zM276 154h3v1h-3zM286 154h3v1h-3zM276 155h1v1h-1zM278 155h1v1h-1zM276 156h3v1h-3zM306 158h3v1h-3zM296 159h3v1h-3zM306 159h1v1h-1zM308 159h1v1h-1zM296 160h1v1h-1zM298 160h1v1h-1zM306 160h3v1h-3zM296 161h3v1h-3zM316 162h3v1h-3zM326 162h3v1h-3zM316 163h1v1h-1zM318 163h1v1h-1zM326 163h1v1h-1zM328 163h1v1h-1zM165 164h3v1h-3zM316 164h3v1h-3zM326 164h3v1h-3zM165 165h1v1h-1zM167 165h1v1h-1zM165 166h3v1h-3zM336 167h3v1h-3zM336 168h1v1h-1zM338 168h1v1h-1zM336 169h3v1h-3zM346 176h3v1h-3zM346 177h1v1h-1zM348 177h1v1h-1zM346 178h3v1h-3zM155 189h3v1h-3zM155 190h1v1h-1zM157 190h1v1h-1zM155 191h3v1h-3zM356 197h3v1h-3zM356 198h1v1h-1zM358 198h1v1h-1zM356 199h3v1h-3zM376 209h3v1h-3zM366 210h3v1h-3zM376 210h1v1h-1zM378 210h1v1h-1zM366 211h1v1h-1zM368 211h1v1h-1zM376 211h3v1h-3zM145 212h3v1h-3zM366 212h3v1h-3zM386 212h3v1h-3zM145 213h1v1h-1zM147 213h1v1h-1zM386 213h1v1h-1zM388 213h1v1h-1zM145 214h3v1h-3zM386 214h3v1h-3zM135 221h3v1h-3zM115 222h3v1h-3zM135 222h1v1h-1zM137 222h1v1h-1zM115 223h1v1h-1zM117 223h1v1h-1zM135 223h3v1h-3zM115 224h3v1h-3zM396 224h3v1h-3zM396 225h1v1h-1zM398 225h1v1h-1zM125 226h3v1h-3zM396 226h3v1h-3zM125 227h1v1h-1zM127 227h1v1h-1zM94 228h3v1h-3zM125 228h3v1h-3zM94 229h1v1h-1zM96 229h1v1h-1zM34 230h3v1h-3zM94 230h3v1h-3zM105 230h3v1h-3zM34 231h1v1h-1zM36 231h1v1h-1zM105 231h1v1h-1zM107 231h1v1h-1zM34 232h3v1h-3zM105 232h3v1h-3zM84 233h3v1h-3zM44 234h3v1h-3zM54 234h3v1h-3zM84 234h1v1h-1zM86 234h1v1h-1zM406 234h3v1h-3zM44 235h1v1h-1zM46 235h1v1h-1zM54 235h1v1h-1zM56 235h1v1h-1zM84 235h3v1h-3zM406 235h1v1h-1zM408 235h1v1h-1zM44 236h3v1h-3zM54 236h3v1h-3zM406 236h3v1h-3zM64 239h3v1h-3zM64 240h1v1h-1zM66 240h1v1h-1zM64 241h3v1h-3zM74 241h3v1h-3zM417 241h3v1h-3zM74 242h1v1h-1zM76 242h1v1h-1zM417 242h1v1h-1zM419 242h1v1h-1zM74 243h3v1h-3zM417 243h3v1h-3zM427 256h3v1h-3zM437 256h3v1h-3zM427 257h1v1h-1zM429 257h1v1h-1zM437 257h1v1h-1zM439 257h1v1h-1zM427 258h3v1h-3zM437 258h3v1h-3zM447 267h3v1h-3zM447 268h1v1h-1zM449 268h1v1h-1zM447 269h3v1h-3zM457 277h3v1h-3zM457 278h1v1h-1zM459 278h1v1h-1zM457 279h3v1h-3zM467 284h3v1h-3zM467 285h1v1h-1zM469 285h1v1h-1zM467 286h3v1h-3zM477 294h3v1h-3zM477 295h1v1h-1zM479 295h1v1h-1zM477 296h3v1h-3zM557 299h3v1h-3zM557 300h1v1h-1zM559 300h1v1h-1zM557 301h3v1h-3zM487 302h3v1h-3zM487 303h1v1h-1zM489 303h1v1h-1zM537 303h3v1h-3zM487 304h3v1h-3zM537 304h1v1h-1zM539 304h1v1h-1zM537 305h3v1h-3zM497 306h3v1h-3zM497 307h1v1h-1zM499 307h1v1h-1zM497 308h3v1h-3zM517 308h3v1h-3zM517 309h1v1h-1zM519 309h1v1h-1zM598 309h3v1h-3zM517 310h3v1h-3zM588 310h3v1h-3zM598 310h1v1h-1zM600 310h1v1h-1zM608 310h3v1h-3zM507 311h3v1h-3zM568 311h3v1h-3zM578 311h3v1h-3zM588 311h1v1h-1zM590 311h1v1h-1zM598 311h3v1h-3zM608 311h1v1h-1zM610 311h1v1h-1zM507 312h1v1h-1zM509 312h1v1h-1zM568 312h1v1h-1zM570 312h1v1h-1zM578 312h1v1h-1zM580 312h1v1h-1zM588 312h3v1h-3zM608 312h3v1h-3zM507 313h3v1h-3zM568 313h3v1h-3zM578 313h3v1h-3zM527 315h3v1h-3zM547 315h3v1h-3zM628 315h3v1h-3zM527 316h1v1h-1zM529 316h1v1h-1zM547 316h1v1h-1zM549 316h1v1h-1zM618 316h3v1h-3zM628 316h1v1h-1zM630 316h1v1h-1zM527 317h3v1h-3zM547 317h3v1h-3zM618 317h1v1h-1zM620 317h1v1h-1zM628 317h3v1h-3zM618 318h3v1h-3z" fill="#ff8000" shape-rendering="crispEdges"/>
<path d="M44 208h2v1h-2zM85 208h1v1h-1zM126 208h1v1h-1zM145 208h2v1h-2zM42 209h2v1h-2zM46 209h1v1h-1zM84 209h1v1h-1zM86 209h2v1h-2zM125 209h1v1h-1zM127 209h2v1h-2zM143 209h2v1h-2zM146 209h1v1h-1zM40 210h2v1h-2zM47 210h1v1h-1zM83 210h1v1h-1zM88 210h2v1h-2zM124 210h1v1h-1zM129 210h2v1h-2zM141 210h2v1h-2zM147 210h1v1h-1zM38 211h2v1h-2zM48 211h1v1h-1zM82 211h1v1h-1zM90 211h2v1h-2zM123 211h1v1h-1zM131 211h2v1h-2zM139 211h2v1h-2zM147 211h1v1h-1zM36 212h2v1h-2zM49 212h1v1h-1zM81 212h1v1h-1zM92 212h2v1h-2zM122 212h1v1h-1zM133 212h2v1h-2zM137 212h2v1h-2zM147 212h1v1h-1zM35 213h1v1h-1zM50 213h1v1h-1zM80 213h1v1h-1zM94 213h2v1h-2zM121 213h1v1h-1zM135 213h2v1h-2zM148 213h1v1h-1zM50 214h1v1h-1zM80 214h1v1h-1zM96 214h1v1h-1zM120 214h1v1h-1zM148 214h1v1h-1zM51 215h1v1h-1zM79 215h1v1h-1zM97 215h1v1h-1zM119 215h1v1h-1zM148 215h1v1h-1zM52 216h1v1h-1zM78 216h1v1h-1zM97 216h1v1h-1zM118 216h1v1h-1zM149 216h1v1h-1zM53 217h1v1h-1zM77 217h1v1h-1zM98 217h1v1h-1zM117 217h1v1h-1zM149 217h1v1h-1zM54 218h1v1h-1zM76 218h1v1h-1zM99 218h1v1h-1zM116 218h1v1h-1zM149 218h1v1h-1zM55 219h1v1h-1zM75 219h1v1h-1zM100 219h1v1h-1zM115 219h1v1h-1zM150 219h1v1h-1zM56 220h1v1h-1zM74 220h1v1h-1zM101 220h1v1h-1zM114 220h1v1h-1zM150 220h1v1h-1zM56 221h1v1h-1zM74 221h1v1h-1zM101 221h1v1h-1zM113 221h1v1h-1zM150 221h1v1h-1zM57 222h1v1h-1zM73 222h1v1h-1zM102 222h1v1h-1zM111 222h2v1h-2zM151 222h1v1h-1zM57 223h1v1h-1zM73 223h1v1h-1zM103 223h1v1h-1zM110 223h1v1h-1zM151 223h1v1h-1zM58 224h1v1h-1zM72 224h1v1h-1zM104 224h1v1h-1zM109 224h1v1h-1zM152 224h1v1h-1zM58 225h1v1h-1zM72 225h1v1h-1zM104 225h1v1h-1zM108 225h1v1h-1zM152 225h1v1h-1zM59 226h1v1h-1zM71 226h1v1h-1zM105 226h1v1h-1zM107 226h1v1h-1zM152 226h1v1h-1zM59 227h1v1h-1zM71 227h1v1h-1zM106 227h1v1h-1zM153 227h1v1h-1zM60 228h1v1h-1zM70 228h1v1h-1zM153 228h1v1h-1zM166 228h1v1h-1zM61 229h1v1h-1zM69 229h1v1h-1zM153 229h1v1h-1zM165 229h2v1h-2zM61 230h1v1h-1zM69 230h1v1h-1zM154 230h1v1h-1zM164 230h1v1h-1zM167 230h1v1h-1zM62 231h1v1h-1zM68 231h1v1h-1zM154 231h1v1h-1zM163 231h1v1h-1zM167 231h1v1h-1zM62 232h1v1h-1zM68 232h1v1h-1zM154 232h1v1h-1zM161 232h2v1h-2zM167 232h1v1h-1zM63 233h1v1h-1zM67 233h1v1h-1zM155 233h1v1h-1zM160 233h1v1h-1zM168 233h1v1h-1zM63 234h1v1h-1zM67 234h1v1h-1zM155 234h1v1h-1zM159 234h1v1h-1zM168 234h1v1h-1zM64 235h1v1h-1zM66 235h1v1h-1zM155 235h1v1h-1zM158 235h1v1h-1zM169 235h1v1h-1zM64 236h1v1h-1zM66 236h1v1h-1zM156 236h2v1h-2zM169 236h1v1h-1zM65 237h1v1h-1zM156 237h1v1h-1zM169 237h1v1h-1zM277 237h1v1h-1zM170 238h1v1h-1zM276 238h2v1h-2zM170 239h1v1h-1zM276 239h1v1h-1zM278 239h1v1h-1zM170 240h1v1h-1zM275 240h1v1h-1zM278 240h1v1h-1zM171 241h1v1h-1zM274 241h1v1h-1zM279 241h1v1h-1zM171 242h1v1h-1zM273 242h1v1h-1zM279 242h1v1h-1zM172 243h1v1h-1zM273 243h1v1h-1zM280 243h1v1h-1zM172 244h1v1h-1zM272 244h1v1h-1zM280 244h1v1h-1zM172 245h1v1h-1zM257 245h1v1h-1zM271 245h1v1h-1zM280 245h1v1h-1zM173 246h1v1h-1zM255 246h2v1h-2zM258 246h2v1h-2zM271 246h1v1h-1zM281 246h1v1h-1zM173 247h1v1h-1zM253 247h2v1h-2zM260 247h2v1h-2zM270 247h1v1h-1zM281 247h1v1h-1zM306 247h2v1h-2zM173 248h1v1h-1zM251 248h2v1h-2zM262 248h1v1h-1zM269 248h1v1h-1zM282 248h1v1h-1zM304 248h2v1h-2zM308 248h1v1h-1zM174 249h1v1h-1zM249 249h2v1h-2zM263 249h2v1h-2zM268 249h1v1h-1zM282 249h1v1h-1zM301 249h3v1h-3zM309 249h1v1h-1zM174 250h1v1h-1zM247 250h2v1h-2zM265 250h2v1h-2zM268 250h1v1h-1zM283 250h1v1h-1zM299 250h2v1h-2zM309 250h1v1h-1zM175 251h1v1h-1zM185 251h2v1h-2zM226 251h2v1h-2zM245 251h2v1h-2zM267 251h1v1h-1zM283 251h1v1h-1zM297 251h2v1h-2zM310 251h1v1h-1zM327 251h1v1h-1zM438 251h1v1h-1zM175 252h1v1h-1zM183 252h2v1h-2zM187 252h1v1h-1zM225 252h1v1h-1zM228 252h2v1h-2zM243 252h2v1h-2zM284 252h1v1h-1zM296 252h1v1h-1zM311 252h1v1h-1zM326 252h1v1h-1zM328 252h1v1h-1zM438 252h2v1h-2zM175 253h1v1h-1zM180 253h3v1h-3zM187 253h1v1h-1zM224 253h1v1h-1zM230 253h3v1h-3zM240 253h3v1h-3zM284 253h1v1h-1zM295 253h1v1h-1zM312 253h1v1h-1zM325 253h1v1h-1zM329 253h1v1h-1zM437 253h1v1h-1zM439 253h1v1h-1zM176 254h1v1h-1zM178 254h2v1h-2zM188 254h1v1h-1zM223 254h1v1h-1zM233 254h2v1h-2zM238 254h2v1h-2zM284 254h1v1h-1zM294 254h1v1h-1zM312 254h1v1h-1zM324 254h1v1h-1zM329 254h1v1h-1zM437 254h1v1h-1zM440 254h1v1h-1zM176 255h2v1h-2zM188 255h1v1h-1zM206 255h1v1h-1zM221 255h2v1h-2zM235 255h3v1h-3zM285 255h1v1h-1zM292 255h2v1h-2zM313 255h1v1h-1zM322 255h2v1h-2zM330 255h1v1h-1zM437 255h1v1h-1zM441 255h1v1h-1zM458 255h1v1h-1zM508 255h1v1h-1zM189 256h1v1h-1zM205 256h1v1h-1zM207 256h2v1h-2zM220 256h1v1h-1zM285 256h1v1h-1zM291 256h1v1h-1zM314 256h1v1h-1zM321 256h1v1h-1zM331 256h1v1h-1zM436 256h1v1h-1zM442 256h1v1h-1zM457 256h2v1h-2zM508 256h1v1h-1zM189 257h1v1h-1zM205 257h1v1h-1zM209 257h2v1h-2zM219 257h1v1h-1zM286 257h1v1h-1zM290 257h1v1h-1zM315 257h1v1h-1zM320 257h1v1h-1zM332 257h1v1h-1zM436 257h1v1h-1zM442 257h1v1h-1zM456 257h1v1h-1zM459 257h1v1h-1zM507 257h1v1h-1zM509 257h1v1h-1zM190 258h1v1h-1zM204 258h1v1h-1zM211 258h2v1h-2zM218 258h1v1h-1zM286 258h1v1h-1zM289 258h1v1h-1zM315 258h1v1h-1zM319 258h1v1h-1zM332 258h1v1h-1zM436 258h1v1h-1zM443 258h1v1h-1zM455 258h1v1h-1zM459 258h1v1h-1zM507 258h1v1h-1zM509 258h1v1h-1zM190 259h1v1h-1zM203 259h1v1h-1zM213 259h2v1h-2zM217 259h1v1h-1zM287 259h2v1h-2zM316 259h1v1h-1zM318 259h1v1h-1zM333 259h1v1h-1zM435 259h1v1h-1zM444 259h1v1h-1zM454 259h1v1h-1zM460 259h1v1h-1zM506 259h1v1h-1zM510 259h1v1h-1zM191 260h1v1h-1zM202 260h1v1h-1zM215 260h2v1h-2zM287 260h1v1h-1zM317 260h1v1h-1zM334 260h1v1h-1zM435 260h1v1h-1zM444 260h1v1h-1zM453 260h1v1h-1zM460 260h1v1h-1zM506 260h1v1h-1zM510 260h1v1h-1zM192 261h1v1h-1zM202 261h1v1h-1zM335 261h1v1h-1zM435 261h1v1h-1zM445 261h1v1h-1zM452 261h1v1h-1zM461 261h1v1h-1zM505 261h1v1h-1zM511 261h1v1h-1zM192 262h1v1h-1zM201 262h1v1h-1zM335 262h1v1h-1zM435 262h1v1h-1zM446 262h1v1h-1zM451 262h1v1h-1zM461 262h1v1h-1zM505 262h1v1h-1zM511 262h1v1h-1zM193 263h1v1h-1zM200 263h1v1h-1zM336 263h1v1h-1zM434 263h1v1h-1zM447 263h1v1h-1zM450 263h1v1h-1zM461 263h1v1h-1zM505 263h1v1h-1zM511 263h1v1h-1zM193 264h1v1h-1zM200 264h1v1h-1zM337 264h1v1h-1zM434 264h1v1h-1zM447 264h1v1h-1zM449 264h1v1h-1zM462 264h1v1h-1zM504 264h1v1h-1zM512 264h1v1h-1zM194 265h1v1h-1zM199 265h1v1h-1zM337 265h1v1h-1zM418 265h1v1h-1zM434 265h1v1h-1zM448 265h1v1h-1zM462 265h1v1h-1zM504 265h1v1h-1zM512 265h1v1h-1zM194 266h1v1h-1zM198 266h1v1h-1zM338 266h1v1h-1zM417 266h1v1h-1zM419 266h1v1h-1zM433 266h1v1h-1zM463 266h1v1h-1zM503 266h1v1h-1zM513 266h1v1h-1zM195 267h1v1h-1zM197 267h1v1h-1zM338 267h1v1h-1zM417 267h1v1h-1zM419 267h1v1h-1zM433 267h1v1h-1zM463 267h1v1h-1zM503 267h1v1h-1zM513 267h1v1h-1zM195 268h1v1h-1zM197 268h1v1h-1zM338 268h1v1h-1zM416 268h1v1h-1zM420 268h1v1h-1zM433 268h1v1h-1zM463 268h1v1h-1zM503 268h1v1h-1zM513 268h1v1h-1zM196 269h1v1h-1zM338 269h1v1h-1zM416 269h1v1h-1zM420 269h1v1h-1zM432 269h1v1h-1zM464 269h1v1h-1zM502 269h1v1h-1zM514 269h1v1h-1zM339 270h1v1h-1zM415 270h1v1h-1zM421 270h1v1h-1zM432 270h1v1h-1zM464 270h1v1h-1zM502 270h1v1h-1zM514 270h1v1h-1zM339 271h1v1h-1zM414 271h1v1h-1zM421 271h1v1h-1zM432 271h1v1h-1zM465 271h1v1h-1zM501 271h1v1h-1zM515 271h1v1h-1zM339 272h1v1h-1zM414 272h1v1h-1zM422 272h1v1h-1zM431 272h1v1h-1zM465 272h1v1h-1zM501 272h1v1h-1zM515 272h1v1h-1zM339 273h1v1h-1zM413 273h1v1h-1zM422 273h1v1h-1zM431 273h1v1h-1zM466 273h1v1h-1zM500 273h1v1h-1zM516 273h1v1h-1zM340 274h1v1h-1zM412 274h1v1h-1zM423 274h1v1h-1zM431 274h1v1h-1zM466 274h1v1h-1zM477 274h2v1h-2zM500 274h1v1h-1zM516 274h1v1h-1zM340 275h1v1h-1zM412 275h1v1h-1zM424 275h1v1h-1zM430 275h1v1h-1zM466 275h1v1h-1zM475 275h2v1h-2zM479 275h1v1h-1zM500 275h1v1h-1zM516 275h1v1h-1zM340 276h1v1h-1zM411 276h1v1h-1zM424 276h1v1h-1zM430 276h1v1h-1zM467 276h1v1h-1zM473 276h2v1h-2zM480 276h1v1h-1zM499 276h1v1h-1zM517 276h1v1h-1zM340 277h1v1h-1zM411 277h1v1h-1zM425 277h1v1h-1zM430 277h1v1h-1zM467 277h1v1h-1zM471 277h2v1h-2zM481 277h1v1h-1zM499 277h1v1h-1zM517 277h1v1h-1zM341 278h1v1h-1zM410 278h1v1h-1zM425 278h1v1h-1zM430 278h1v1h-1zM468 278h3v1h-3zM482 278h1v1h-1zM498 278h1v1h-1zM518 278h1v1h-1zM341 279h1v1h-1zM357 279h1v1h-1zM409 279h1v1h-1zM426 279h1v1h-1zM429 279h1v1h-1zM468 279h1v1h-1zM483 279h2v1h-2zM497 279h2v1h-2zM518 279h1v1h-1zM341 280h1v1h-1zM357 280h2v1h-2zM409 280h1v1h-1zM426 280h1v1h-1zM429 280h1v1h-1zM485 280h1v1h-1zM495 280h2v1h-2zM519 280h1v1h-1zM341 281h1v1h-1zM356 281h1v1h-1zM359 281h1v1h-1zM408 281h1v1h-1zM427 281h1v1h-1zM429 281h1v1h-1zM486 281h1v1h-1zM492 281h3v1h-3zM520 281h1v1h-1zM342 282h1v1h-1zM356 282h1v1h-1zM360 282h1v1h-1zM408 282h1v1h-1zM427 282h2v1h-2zM487 282h1v1h-1zM490 282h2v1h-2zM521 282h1v1h-1zM342 283h1v1h-1zM355 283h1v1h-1zM361 283h1v1h-1zM406 283h2v1h-2zM428 283h1v1h-1zM488 283h2v1h-2zM522 283h1v1h-1zM342 284h1v1h-1zM355 284h1v1h-1zM362 284h2v1h-2zM404 284h2v1h-2zM523 284h2v1h-2zM343 285h1v1h-1zM354 285h1v1h-1zM364 285h1v1h-1zM402 285h2v1h-2zM525 285h1v1h-1zM343 286h1v1h-1zM354 286h1v1h-1zM365 286h1v1h-1zM400 286h2v1h-2zM526 286h1v1h-1zM343 287h1v1h-1zM354 287h1v1h-1zM366 287h1v1h-1zM398 287h2v1h-2zM527 287h1v1h-1zM343 288h1v1h-1zM353 288h1v1h-1zM367 288h31v1h-31zM528 288h11v1h-11zM344 289h1v1h-1zM353 289h1v1h-1zM539 289h1v1h-1zM344 290h1v1h-1zM352 290h1v1h-1zM539 290h1v1h-1zM344 291h1v1h-1zM352 291h1v1h-1zM540 291h1v1h-1zM344 292h1v1h-1zM351 292h1v1h-1zM540 292h1v1h-1zM345 293h1v1h-1zM351 293h1v1h-1zM541 293h1v1h-1zM598 293h2v1h-2zM345 294h1v1h-1zM350 294h1v1h-1zM541 294h1v1h-1zM596 294h2v1h-2zM600 294h1v1h-1zM345 295h1v1h-1zM350 295h1v1h-1zM542 295h1v1h-1zM593 295h3v1h-3zM600 295h1v1h-1zM345 296h1v1h-1zM350 296h1v1h-1zM542 296h1v1h-1zM591 296h2v1h-2zM601 296h1v1h-1zM346 297h1v1h-1zM349 297h1v1h-1zM543 297h1v1h-1zM589 297h2v1h-2zM602 297h1v1h-1zM628 297h2v1h-2zM346 298h1v1h-1zM349 298h1v1h-1zM543 298h1v1h-1zM588 298h1v1h-1zM603 298h1v1h-1zM626 298h2v1h-2zM346 299h1v1h-1zM348 299h1v1h-1zM544 299h1v1h-1zM588 299h1v1h-1zM603 299h1v1h-1zM624 299h2v1h-2zM346 300h1v1h-1zM348 300h1v1h-1zM544 300h1v1h-1zM587 300h1v1h-1zM604 300h1v1h-1zM622 300h2v1h-2zM347 301h1v1h-1zM545 301h1v1h-1zM587 301h1v1h-1zM605 301h1v1h-1zM620 301h2v1h-2zM347 302h1v1h-1zM545 302h1v1h-1zM586 302h1v1h-1zM605 302h1v1h-1zM618 302h2v1h-2zM546 303h1v1h-1zM586 303h1v1h-1zM606 303h1v1h-1zM616 303h2v1h-2zM546 304h1v1h-1zM585 304h1v1h-1zM607 304h1v1h-1zM614 304h2v1h-2zM547 305h1v1h-1zM585 305h1v1h-1zM608 305h1v1h-1zM612 305h2v1h-2zM547 306h1v1h-1zM584 306h1v1h-1zM608 306h1v1h-1zM610 306h2v1h-2zM548 307h12v1h-12zM584 307h1v1h-1zM609 307h1v1h-1zM560 308h4v1h-4zM583 308h1v1h-1zM564 309h4v1h-4zM583 309h1v1h-1zM568 310h2v1h-2zM582 310h1v1h-1zM570 311h2v1h-2zM582 311h1v1h-1zM572 312h2v1h-2zM581 312h1v1h-1zM574 313h1v1h-1zM581 313h1v1h-1zM575 314h2v1h-2zM580 314h1v1h-1zM577 315h2v1h-2zM580 315h1v1h-1zM579 316h1v1h-1z" fill="#00ff00" shape-rendering="crispEdges"/>
<path d="M215 196h2v1h-2zM213 197h2v1h-2zM217 197h1v1h-1zM211 198h2v1h-2zM217 198h1v1h-1zM209 199h2v1h-2zM218 199h1v1h-1zM207 200h2v1h-2zM218 200h1v1h-1zM196 201h11v1h-11zM219 201h1v1h-1zM195 202h1v1h-1zM219 202h1v1h-1zM194 203h1v1h-1zM220 203h1v1h-1zM194 204h1v1h-1zM220 204h1v1h-1zM193 205h1v1h-1zM221 205h1v1h-1zM192 206h1v1h-1zM222 206h1v1h-1zM191 207h1v1h-1zM222 207h1v1h-1zM191 208h1v1h-1zM223 208h1v1h-1zM190 209h1v1h-1zM223 209h1v1h-1zM189 210h1v1h-1zM224 210h1v1h-1zM188 211h1v1h-1zM224 211h1v1h-1zM188 212h1v1h-1zM225 212h1v1h-1zM187 213h1v1h-1zM225 213h1v1h-1zM176 214h11v1h-11zM226 214h1v1h-1zM176 215h1v1h-1zM227 215h2v1h-2zM176 216h1v1h-1zM229 216h2v1h-2zM175 217h1v1h-1zM231 217h1v1h-1zM175 218h1v1h-1zM232 218h2v1h-2zM175 219h1v1h-1zM234 219h2v1h-2zM175 220h1v1h-1zM236 220h1v1h-1zM257 220h2v1h-2zM316 220h12v1h-12zM174 221h1v1h-1zM237 221h1v1h-1zM256 221h1v1h-1zM259 221h2v1h-2zM314 221h2v1h-2zM327 221h1v1h-1zM174 222h1v1h-1zM237 222h1v1h-1zM256 222h1v1h-1zM261 222h3v1h-3zM311 222h3v1h-3zM328 222h1v1h-1zM174 223h1v1h-1zM238 223h1v1h-1zM255 223h1v1h-1zM264 223h2v1h-2zM309 223h2v1h-2zM328 223h1v1h-1zM174 224h1v1h-1zM238 224h1v1h-1zM254 224h1v1h-1zM266 224h2v1h-2zM307 224h2v1h-2zM328 224h1v1h-1zM174 225h1v1h-1zM239 225h1v1h-1zM254 225h1v1h-1zM268 225h2v1h-2zM306 225h1v1h-1zM329 225h1v1h-1zM173 226h1v1h-1zM240 226h1v1h-1zM253 226h1v1h-1zM270 226h2v1h-2zM305 226h1v1h-1zM329 226h1v1h-1zM173 227h1v1h-1zM240 227h1v1h-1zM252 227h1v1h-1zM272 227h2v1h-2zM305 227h1v1h-1zM330 227h1v1h-1zM173 228h1v1h-1zM241 228h1v1h-1zM252 228h1v1h-1zM274 228h2v1h-2zM304 228h1v1h-1zM330 228h1v1h-1zM173 229h1v1h-1zM241 229h1v1h-1zM251 229h1v1h-1zM276 229h12v1h-12zM303 229h1v1h-1zM330 229h1v1h-1zM173 230h1v1h-1zM242 230h1v1h-1zM251 230h1v1h-1zM288 230h1v1h-1zM302 230h1v1h-1zM331 230h1v1h-1zM172 231h1v1h-1zM242 231h1v1h-1zM250 231h1v1h-1zM289 231h2v1h-2zM302 231h1v1h-1zM331 231h1v1h-1zM172 232h1v1h-1zM243 232h1v1h-1zM249 232h1v1h-1zM291 232h1v1h-1zM301 232h1v1h-1zM331 232h1v1h-1zM172 233h1v1h-1zM244 233h1v1h-1zM249 233h1v1h-1zM292 233h1v1h-1zM300 233h1v1h-1zM332 233h1v1h-1zM172 234h1v1h-1zM244 234h1v1h-1zM248 234h1v1h-1zM293 234h1v1h-1zM299 234h1v1h-1zM332 234h1v1h-1zM171 235h1v1h-1zM245 235h1v1h-1zM247 235h1v1h-1zM294 235h2v1h-2zM299 235h1v1h-1zM333 235h1v1h-1zM171 236h1v1h-1zM245 236h1v1h-1zM247 236h1v1h-1zM296 236h1v1h-1zM298 236h1v1h-1zM333 236h1v1h-1zM171 237h1v1h-1zM246 237h1v1h-1zM297 237h1v1h-1zM333 237h1v1h-1zM171 238h1v1h-1zM334 238h1v1h-1zM171 239h1v1h-1zM334 239h1v1h-1zM170 240h1v1h-1zM334 240h1v1h-1zM170 241h1v1h-1zM335 241h1v1h-1zM170 242h1v1h-1zM335 242h1v1h-1zM170 243h1v1h-1zM336 243h1v1h-1zM169 244h1v1h-1zM336 244h1v1h-1zM169 245h1v1h-1zM336 245h1v1h-1zM169 246h1v1h-1zM337 246h1v1h-1zM169 247h1v1h-1zM337 247h1v1h-1zM169 248h1v1h-1zM338 248h1v1h-1zM168 249h1v1h-1zM338 249h1v1h-1zM168 250h1v1h-1zM339 250h1v1h-1zM168 251h1v1h-1zM340 251h1v1h-1zM168 252h1v1h-1zM341 252h1v1h-1zM168 253h1v1h-1zM341 253h1v1h-1zM167 254h1v1h-1zM342 254h1v1h-1zM167 255h1v1h-1zM343 255h1v1h-1zM167 256h1v1h-1zM343 256h1v1h-1zM167 257h1v1h-1zM344 257h1v1h-1zM166 258h1v1h-1zM345 258h1v1h-1zM166 259h1v1h-1zM346 259h1v1h-1zM156 260h11v1h-11zM346 260h1v1h-1zM155 261h1v1h-1zM347 261h1v1h-1zM155 262h1v1h-1zM347 262h1v1h-1zM154 263h1v1h-1zM348 263h1v1h-1zM153 264h1v1h-1zM348 264h1v1h-1zM153 265h1v1h-1zM349 265h1v1h-1zM152 266h1v1h-1zM349 266h1v1h-1zM151 267h1v1h-1zM350 267h1v1h-1zM151 268h1v1h-1zM350 268h1v1h-1zM150 269h1v1h-1zM350 269h1v1h-1zM149 270h1v1h-1zM351 270h1v1h-1zM149 271h1v1h-1zM351 271h1v1h-1zM148 272h1v1h-1zM352 272h1v1h-1zM147 273h1v1h-1zM352 273h1v1h-1zM147 274h1v1h-1zM353 274h1v1h-1zM136 275h11v1h-11zM353 275h1v1h-1zM135 276h1v1h-1zM354 276h1v1h-1zM134 277h1v1h-1zM354 277h1v1h-1zM133 278h1v1h-1zM354 278h1v1h-1zM131 279h2v1h-2zM355 279h1v1h-1zM130 280h1v1h-1zM355 280h1v1h-1zM366 280h2v1h-2zM129 281h1v1h-1zM356 281h1v1h-1zM364 281h2v1h-2zM368 281h2v1h-2zM128 282h1v1h-1zM356 282h1v1h-1zM361 282h3v1h-3zM370 282h2v1h-2zM127 283h1v1h-1zM357 283h1v1h-1zM359 283h2v1h-2zM372 283h2v1h-2zM111 284h16v1h-16zM357 284h2v1h-2zM374 284h2v1h-2zM382 284h6v1h-6zM106 285h5v1h-5zM376 285h6v1h-6zM388 285h1v1h-1zM105 286h1v1h-1zM389 286h1v1h-1zM104 287h1v1h-1zM390 287h1v1h-1zM103 288h1v1h-1zM391 288h1v1h-1zM102 289h1v1h-1zM392 289h2v1h-2zM100 290h2v1h-2zM394 290h1v1h-1zM99 291h1v1h-1zM395 291h1v1h-1zM98 292h1v1h-1zM396 292h1v1h-1zM97 293h1v1h-1zM397 293h3v1h-3zM96 294h1v1h-1zM400 294h5v1h-5zM35 295h1v1h-1zM93 295h3v1h-3zM405 295h4v1h-4zM36 296h2v1h-2zM88 296h5v1h-5zM409 296h3v1h-3zM38 297h1v1h-1zM84 297h4v1h-4zM412 297h2v1h-2zM39 298h1v1h-1zM64 298h3v1h-3zM82 298h2v1h-2zM414 298h3v1h-3zM40 299h2v1h-2zM62 299h2v1h-2zM67 299h2v1h-2zM80 299h2v1h-2zM417 299h2v1h-2zM42 300h1v1h-1zM59 300h3v1h-3zM69 300h3v1h-3zM78 300h2v1h-2zM419 300h1v1h-1zM43 301h2v1h-2zM57 301h2v1h-2zM72 301h2v1h-2zM76 301h2v1h-2zM420 301h1v1h-1zM45 302h12v1h-12zM74 302h2v1h-2zM421 302h1v1h-1zM422 303h1v1h-1zM423 304h2v1h-2zM425 305h1v1h-1zM426 306h1v1h-1zM427 307h1v1h-1zM428 308h1v1h-1zM429 309h2v1h-2zM431 310h2v1h-2zM433 311h2v1h-2zM435 312h2v1h-2zM437 313h3v1h-3zM440 314h2v1h-2zM442 315h3v1h-3zM445 316h2v1h-2zM447 317h2v1h-2zM449 318h1v1h-1zM449 319h1v1h-1zM450 320h1v1h-1zM451 321h1v1h-1zM451 322h1v1h-1zM452 323h1v1h-1zM453 324h1v1h-1zM453 325h1v1h-1zM454 326h1v1h-1zM455 327h1v1h-1zM455 328h1v1h-1zM456 329h1v1h-1zM457 330h1v1h-1zM457 331h1v1h-1zM458 332h1v1h-1zM459 333h1v1h-1zM460 334h1v1h-1zM461 335h1v1h-1zM462 336h1v1h-1zM463 337h2v1h-2zM465 338h1v1h-1zM466 339h1v1h-1zM467 340h1v1h-1zM468 341h1v1h-1zM469 342h1v1h-1zM470 343h1v1h-1zM471 344h1v1h-1zM472 345h1v1h-1zM473 346h2v1h-2zM475 347h1v1h-1zM476 348h1v1h-1zM477 349h1v1h-1zM478 350h1v1h-1zM479 351h2v1h-2zM481 352h2v1h-2zM558 352h13v1h-13zM483 353h2v1h-2zM557 353h1v1h-1zM571 353h3v1h-3zM485 354h2v1h-2zM556 354h1v1h-1zM574 354h4v1h-4zM487 355h2v1h-2zM555 355h1v1h-1zM578 355h2v1h-2zM489 356h1v1h-1zM555 356h1v1h-1zM580 356h2v1h-2zM490 357h1v1h-1zM554 357h1v1h-1zM582 357h2v1h-2zM491 358h1v1h-1zM553 358h1v1h-1zM584 358h2v1h-2zM492 359h1v1h-1zM552 359h1v1h-1zM586 359h2v1h-2zM493 360h2v1h-2zM551 360h1v1h-1zM588 360h3v1h-3zM495 361h1v1h-1zM550 361h1v1h-1zM591 361h2v1h-2zM496 362h1v1h-1zM526 362h5v1h-5zM550 362h1v1h-1zM593 362h3v1h-3zM497 363h1v1h-1zM521 363h5v1h-5zM531 363h5v1h-5zM549 363h1v1h-1zM596 363h2v1h-2zM498 364h23v1h-23zM536 364h13v1h-13zM598 364h12v1h-12zM610 365h2v1h-2zM612 366h2v1h-2zM614 367h2v1h-2zM616 368h2v1h-2zM618 369h12v1h-12z" fill="#c00000" shape-rendering="crispEdges"/>
<path d="M215 196h3v1h-3zM215 197h3v1h-3zM215 198h3v1h-3zM195 201h3v1h-3zM205 201h3v1h-3zM195 202h3v1h-3zM205 202h3v1h-3zM195 203h3v1h-3zM205 203h3v1h-3zM175 214h3v1h-3zM185 214h3v1h-3zM225 214h3v1h-3zM175 215h3v1h-3zM185 215h3v1h-3zM225 215h3v1h-3zM175 216h3v1h-3zM185 216h3v1h-3zM225 216h3v1h-3zM235 220h3v1h-3zM256 220h3v1h-3zM316 220h3v1h-3zM326 220h3v1h-3zM235 221h3v1h-3zM256 221h3v1h-3zM316 221h3v1h-3zM326 221h3v1h-3zM235 222h3v1h-3zM256 222h3v1h-3zM316 222h3v1h-3zM326 222h3v1h-3zM266 224h3v1h-3zM306 224h3v1h-3zM266 225h3v1h-3zM306 225h3v1h-3zM266 226h3v1h-3zM306 226h3v1h-3zM276 229h3v1h-3zM286 229h3v1h-3zM276 230h3v1h-3zM286 230h3v1h-3zM276 231h3v1h-3zM286 231h3v1h-3zM245 237h3v1h-3zM296 237h3v1h-3zM245 238h3v1h-3zM296 238h3v1h-3zM245 239h3v1h-3zM296 239h3v1h-3zM336 247h3v1h-3zM336 248h3v1h-3zM336 249h3v1h-3zM155 260h3v1h-3zM165 260h3v1h-3zM155 261h3v1h-3zM165 261h3v1h-3zM346 261h3v1h-3zM155 262h3v1h-3zM165 262h3v1h-3zM346 262h3v1h-3zM346 263h3v1h-3zM135 275h3v1h-3zM145 275h3v1h-3zM135 276h3v1h-3zM145 276h3v1h-3zM135 277h3v1h-3zM145 277h3v1h-3zM366 280h3v1h-3zM366 281h3v1h-3zM366 282h3v1h-3zM115 284h3v1h-3zM125 284h3v1h-3zM356 284h3v1h-3zM386 284h3v1h-3zM105 285h3v1h-3zM115 285h3v1h-3zM125 285h3v1h-3zM356 285h3v1h-3zM376 285h3v1h-3zM386 285h3v1h-3zM105 286h3v1h-3zM115 286h3v1h-3zM125 286h3v1h-3zM356 286h3v1h-3zM376 286h3v1h-3zM386 286h3v1h-3zM105 287h3v1h-3zM376 287h3v1h-3zM396 293h3v1h-3zM396 294h3v1h-3zM34 295h3v1h-3zM94 295h3v1h-3zM396 295h3v1h-3zM406 295h3v1h-3zM34 296h3v1h-3zM94 296h3v1h-3zM406 296h3v1h-3zM34 297h3v1h-3zM84 297h3v1h-3zM94 297h3v1h-3zM406 297h3v1h-3zM64 298h3v1h-3zM84 298h3v1h-3zM64 299h3v1h-3zM84 299h3v1h-3zM417 299h3v1h-3zM64 300h3v1h-3zM417 300h3v1h-3zM417 301h3v1h-3zM44 302h3v1h-3zM54 302h3v1h-3zM74 302h3v1h-3zM44 303h3v1h-3zM54 303h3v1h-3zM74 303h3v1h-3zM44 304h3v1h-3zM54 304h3v1h-3zM74 304h3v1h-3zM427 308h3v1h-3zM427 309h3v1h-3zM427 310h3v1h-3zM437 313h3v1h-3zM437 314h3v1h-3zM437 315h3v1h-3zM447 317h3v1h-3zM447 318h3v1h-3zM447 319h3v1h-3zM457 332h3v1h-3zM457 333h3v1h-3zM457 334h3v1h-3zM467 341h3v1h-3zM467 342h3v1h-3zM467 343h3v1h-3zM477 350h3v1h-3zM477 351h3v1h-3zM477 352h3v1h-3zM557 352h3v1h-3zM568 352h3v1h-3zM557 353h3v1h-3zM568 353h3v1h-3zM557 354h3v1h-3zM568 354h3v1h-3zM487 355h3v1h-3zM578 355h3v1h-3zM487 356h3v1h-3zM578 356h3v1h-3zM487 357h3v1h-3zM578 357h3v1h-3zM588 360h3v1h-3zM588 361h3v1h-3zM527 362h3v1h-3zM588 362h3v1h-3zM527 363h3v1h-3zM497 364h3v1h-3zM507 364h3v1h-3zM517 364h3v1h-3zM527 364h3v1h-3zM537 364h3v1h-3zM547 364h3v1h-3zM598 364h3v1h-3zM608 364h3v1h-3zM497 365h3v1h-3zM507 365h3v1h-3zM517 365h3v1h-3zM537 365h3v1h-3zM547 365h3v1h-3zM598 365h3v1h-3zM608 365h3v1h-3zM497 366h3v1h-3zM507 366h3v1h-3zM517 366h3v1h-3zM537 366h3v1h-3zM547 366h3v1h-3zM598 366h3v1h-3zM608 366h3v1h-3zM618 369h3v1h-3zM628 369h3v1h-3zM618 370h3v1h-3zM628 370h3v1h-3zM618 371h3v1h-3zM628 371h3v1h-3z" fill="#c00000" shape-rendering="crispEdges"/>
<g filter="url(#crisp2)">
<text class="d" x="38.375 44.375" y="221.5">56</text>
<text class="d" x="58.375 64.250" y="250.5">50</text>
<text class="d" x="99.375 105.125" y="240.5">52</text>
<text class="d" x="199.000 205.375" y="268.5">46</text>
<text class="d" x="431.000 437.125" y="264.5">47</text>
<text class="d" x="461.000 467.375" y="292.5">41</text>
<text class="d" x="501.000 507.375" y="268.5">46</text>
<text class="d" x="531.125 537.125" y="301.5">39</text>
<text class="d" x="572.125 578.125" y="329.5">33</text>
<text class="d" x="622.125 628.125" y="310.5">37</text>
<text class="d" x="22.125 28.125 34.000 40.250" y="308.5">3740</text>
<text class="d" x="62.125 68.375 74.250 80.250" y="315.5">3600</text>
<text class="d" x="113.125 119.125 125.125 131.250" y="297.5">3980</text>
<text class="d" x="153.000 159.000 165.125 171.000" y="273.5">4494</text>
<text class="d" x="163.375 169.000 175.125 181.250" y="227.5">5480</text>
<text class="d" x="203.375 209.125 215.125 221.250" y="209.5">5870</text>
<text class="d" x="233.000 239.125 245.125 251.250" y="250.5">4980</text>
<text class="d" x="284.000 290.125 296.125 302.250" y="250.5">4980</text>
<text class="d" x="344.125 350.125 356.125 362.250" y="297.5">3980</text>
<text class="d" x="384.125 390.125 396.125 402.250" y="306.5">3780</text>
<text class="d" x="435.125 441.125 447.125 453.250" y="330.5">3270</text>
<text class="d" x="475.125 481.000 487.375 493.250" y="368.5">2460</text>
<text class="d" x="515.125 521.125 527.125 533.250" y="375.5">2320</text>
<text class="d" x="556.125 562.375 568.125 574.250" y="365.5">2520</text>
<text class="d" x="616.125 622.375 628.375 634.250" y="382.5">2160</text>
</g>
</svg></body></html>
